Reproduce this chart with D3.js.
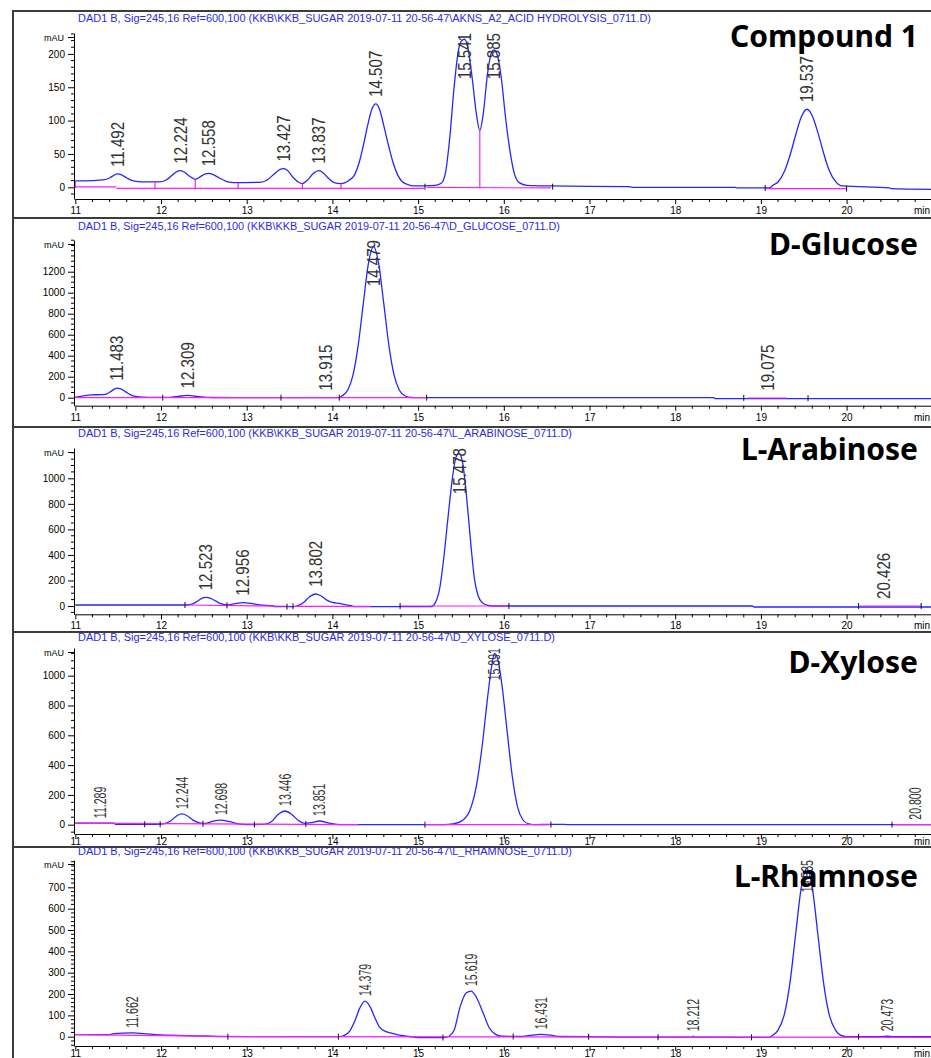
<!DOCTYPE html>
<html>
<head>
<meta charset="utf-8">
<script src="https://cdn.jsdelivr.net/npm/d3@7"></script>
<style>
  body { margin: 0; background: #fff; }
  svg { display: block; }
</style>
</head>
<body>
<div id="chart"></div>
<script>
// ---- data ----
const compoundNames = ["Compound 1", "D-Glucose", "L-Arabinose", "D-Xylose", "L-Rhamnose"];
const fileNames = ["AKNS_A2_ACID HYDROLYSIS_0711.D", "D_GLUCOSE_0711.D", "L_ARABINOSE_0711.D", "D_XYLOSE_0711.D", "L_RHAMNOSE_0711.D"];
const titlePrefix = "DAD1 B, Sig=245,16 Ref=600,100 (KKB\\KKB_SUGAR 2019-07-11 20-56-47\\";

const xTicks = [11, 12, 13, 14, 15, 16, 17, 18, 19, 20];
const yTicks = [
  [0, 50, 100, 150, 200],
  [0, 200, 400, 600, 800, 1000, 1200],
  [0, 200, 400, 600, 800, 1000],
  [0, 200, 400, 600, 800, 1000],
  [0, 100, 200, 300, 400, 500, 600, 700]
];
const yMinorStep = [10, 50, 50, 50, 20];

// retention time labels and the peak height (mAU) they sit on
const peakTimes = [
  ["11.492", "12.224", "12.558", "13.427", "13.837", "14.507", "15.541", "15.885", "19.537"],
  ["11.483", "12.309", "13.915", "14.479", "19.075"],
  ["12.523", "12.956", "13.802", "15.478", "20.426"],
  ["11.289", "12.244", "12.698", "13.446", "13.851", "15.891", "20.800"],
  ["11.662", "14.379", "15.619", "16.431", "18.212", "19.535", "20.473"]
];
const peakHeights = [
  [20, 25, 21, 28, 25, 125, 222, 206, 117],
  [95, 22, 0, 1440, 0],
  [68, 26, 94, 1196, 0],
  [10, 72, 31, 92, 25, 1150, 0],
  [18, 167, 214, 11, 2, 789, 2]
];

// signal traces [min, mAU]
const trace1 = [[11.0,9.5],[11.2,10],[11.32,11],[11.4,14],[11.45,18],[11.492,20],[11.54,18.5],[11.6,14],[11.68,9.5],[11.78,8],[11.98,8],
  [12.06,11],[12.13,18],[12.19,24],[12.224,25],[12.27,23],[12.33,17],[12.4,12],[12.46,16],[12.52,20],[12.558,21],[12.61,19],[12.68,14],
  [12.76,9],[12.85,7],[13.15,7.5],[13.24,11],[13.32,20],[13.39,27],[13.427,28],[13.47,26],[13.54,15],[13.6,8],[13.65,5.5],[13.71,11],
  [13.78,21],[13.837,25],[13.88,23],[13.95,14],[14.02,7],[14.1,5.5],[14.15,7],[14.2,11],[14.26,19],[14.31,36],[14.36,62],[14.41,92],
  [14.46,117],[14.507,125],[14.55,117],[14.6,92],[14.66,60],[14.71,36],[14.76,19],[14.81,9],[14.88,4],[14.95,2],[15.2,3],[15.27,6],
  [15.32,22],[15.37,75],[15.42,150],[15.47,205],[15.51,220],[15.541,222],[15.58,210],[15.63,165],[15.68,110],[15.72,85],[15.76,110],
  [15.81,170],[15.86,203],[15.885,206],[15.92,200],[15.97,165],[16.02,105],[16.07,56],[16.12,22],[16.18,7],[16.27,3],[16.55,2],
  [17.45,1],[17.5,0],[18.7,0],[18.72,-1],[19.1,-1],[19.14,3],[19.2,8],[19.275,24],[19.34,48],[19.405,78],[19.47,105],[19.537,117],
  [19.6,107],[19.665,82],[19.73,52],[19.795,26],[19.87,9],[19.95,2],[20.5,-1],[20.52,-2],[21.0,-3]];
const trace2 = [[11.0,5],[11.08,14],[11.18,27],[11.3,29],[11.36,35],[11.42,62],[11.483,92],[11.53,85],[11.58,60],[11.64,30],[11.7,12],
  [11.8,5],[11.9,3],[12.1,4],[12.2,12],[12.309,22],[12.4,14],[12.5,5],[12.6,2],[13.0,0],[14.08,0],[14.11,16],[14.18,73],[14.24,215],
  [14.3,494],[14.36,893],[14.42,1276],[14.479,1440],[14.54,1276],[14.6,893],[14.66,494],[14.72,215],[14.78,73],[14.85,16],[14.92,2],
  [15.0,0],[18.45,0],[18.47,-8],[21.0,-8]];
const trace3 = [[11.0,8],[12.3,8],[12.36,14],[12.42,35],[12.47,58],[12.523,68],[12.58,60],[12.64,38],[12.7,18],[12.77,8],[12.85,16],
  [12.956,26],[13.05,20],[13.15,8],[13.3,2],[13.33,-5],[13.55,-5],[13.6,3],[13.66,25],[13.73,70],[13.802,94],[13.86,82],[13.93,48],
  [14.0,28],[14.08,20],[14.15,10],[14.22,2],[14.25,-5],[15.15,-5],[15.2,25],[15.25,130],[15.3,380],[15.35,700],[15.4,1000],
  [15.44,1160],[15.478,1196],[15.52,1120],[15.55,960],[15.58,750],[15.62,450],[15.66,200],[15.7,80],[15.75,25],[15.82,4],[15.9,0],
  [18.9,0],[18.92,-8],[21.0,-8]];
const trace4 = [[11.0,10],[11.45,10],[11.47,3],[11.95,3],[12.05,8],[12.12,28],[12.19,62],[12.244,72],[12.3,62],[12.37,32],[12.45,12],
  [12.52,8],[12.6,22],[12.698,31],[12.8,20],[12.9,6],[13.0,1],[13.2,2],[13.29,22],[13.37,70],[13.446,92],[13.52,72],[13.6,30],[13.68,9],
  [13.76,14],[13.851,25],[13.95,12],[14.05,2],[14.1,0],[15.3,0],[15.4,5],[15.5,22],[15.6,90],[15.68,260],[15.75,540],[15.81,850],
  [15.86,1070],[15.891,1150],[15.93,1110],[15.98,930],[16.04,620],[16.1,320],[16.16,120],[16.22,35],[16.28,8],[16.35,1],[16.55,2],
  [16.72,2],[16.74,0],[21.0,0]];
const trace5 = [[11.0,10],[11.4,10],[11.45,14],[11.662,18],[11.85,13],[12.0,8],[12.3,5],[12.55,2],[12.8,0],[14.08,0],[14.14,6],[14.2,25],
  [14.26,72],[14.32,135],[14.379,167],[14.44,140],[14.5,85],[14.55,45],[14.62,25],[14.7,16],[14.8,6],[14.9,1],[15.0,-4],[15.3,-4],
  [15.36,2],[15.42,30],[15.49,140],[15.56,205],[15.619,214],[15.68,185],[15.76,110],[15.83,42],[15.9,12],[15.98,2],[16.2,1],[16.3,6],
  [16.431,11],[16.55,7],[16.65,1],[17.0,0],[17.5,-2],[18.2,-2],[18.212,2],[18.23,-2],[19.1,-3],[19.14,7],[19.2,31],[19.275,107],
  [19.34,256],[19.405,479],[19.47,696],[19.535,789],[19.6,696],[19.665,479],[19.73,256],[19.795,107],[19.87,31],[19.93,7],[20.0,0],
  [20.4,0],[20.473,2],[20.55,0],[21.0,0]];
const traces = [trace1, trace2, trace3, trace4, trace5];

// integration baselines [t1, v1, t2, v2]
const baselines = [
  [[11.0,0.5,11.48,0.5],[11.48,-1.5,15.07,-1.5],[15.1,0,16.55,-1],[19.05,-2,20.0,-2]],
  [[11.0,0,15.1,0],[18.85,-3,19.3,-3]],
  [[12.28,8,13.5,-2],[13.55,-3,14.45,-3],[14.78,0,16.07,0],[20.15,0,20.88,0]],
  [[11.0,10,14.3,0],[15.07,0,16.55,0],[20.55,0,21.0,0]],
  [[11.0,10,13.0,0],[13.0,0,21.0,-3]]
];
// pink drop lines [t, from, to]
const drops = [
  [[11.0,-1,10],[11.93,-1.5,8],[12.4,-1.5,12],[12.9,-1.5,7],[13.65,-1.5,5.5],[14.1,-1.5,5.5],[15.72,-1.5,85]],
  [], [], [], []
];
// peak start/end marks [t, mAU]
const marks = [
  [[15.08,1],[16.57,1],[19.05,-1],[20.0,-2]],
  [[12.02,0],[13.4,0],[14.08,0],[15.1,0],[18.8,-2],[19.55,-5]],
  [[12.28,8],[12.77,5],[13.47,-5],[13.54,-2],[14.79,0],[16.06,0],[20.14,0],[20.87,0]],
  [[11.81,3],[11.99,3],[12.49,6],[13.09,1],[13.69,5],[15.08,0],[16.55,1],[20.53,0]],
  [[12.78,0],[14.07,0],[15.29,-4],[16.11,1],[16.99,0],[17.8,-2],[18.89,-3],[20.14,0]]
];

// ---- layout ----
const panels = [
  {top: 11,  bottom: 218, titleY: 21.5,  titleW: 573, y0: 187.3,  k: 0.667,  axisTop: 33,  axisBot: 199,   xPad: 3,  nameY: 47,    fs: 18, sx: 0.84, gap: 7},
  {top: 218, bottom: 427, titleY: 229.5, titleW: 482, y0: 397.7,  k: 0.105,  axisTop: 240, axisBot: 405.7, xPad: 3,  nameY: 255,   fs: 18, sx: 0.84, gap: 7},
  {top: 427, bottom: 632, titleY: 436.5, titleW: 494, y0: 606,    k: 0.1277, axisTop: 448, axisBot: 614.3, xPad: 3,  nameY: 460,   fs: 18, sx: 0.84, gap: 7},
  {top: 632, bottom: 847, titleY: 640.5, titleW: 477, y0: 824.7,  k: 0.149,  axisTop: 648, axisBot: 834,   xPad: -1, nameY: 673.3, fs: 16, sx: 0.66, gap: 5},
  {top: 847, bottom: 1062, titleY: 854.5, titleW: 494, y0: 1036.7, k: 0.2134, axisTop: 860, axisBot: 1046,  xPad: -1, nameY: 886.7, fs: 16, sx: 0.66, gap: 5}
];

const axisFont = "'Liberation Sans', Arial, sans-serif";
const blue = "#2626ff";
const pink = "#ff1aff";

const svg = d3.select("#chart").append("svg")
  .attr("width", 931)
  .attr("height", 1058);

const x = d3.scaleLinear().domain([11, 21]).range([75.3, 932.3]);

// panel frames first so axis text can sit over them
panels.forEach(p => {
  svg.append("rect")
    .attr("x", 13).attr("y", p.top)
    .attr("width", 940).attr("height", p.bottom - p.top)
    .attr("fill", "none")
    .attr("stroke", "#3c3c3c")
    .attr("stroke-width", 2);
});

panels.forEach((p, i) => {
  const g = svg.append("g");
  const y = d3.scaleLinear()
    .domain([(p.y0 - p.axisBot) / p.k, (p.y0 - p.axisTop) / p.k])
    .range([p.axisBot, p.axisTop]);

  svg.append("clipPath").attr("id", "clip" + i)
    .append("rect")
    .attr("x", 75).attr("y", p.axisTop - 2)
    .attr("width", 860).attr("height", p.axisBot - p.axisTop + 2);

  // header line
  g.append("text")
    .attr("x", 78).attr("y", p.titleY)
    .attr("fill", "#2a2ae8")
    .attr("textLength", p.titleW)
    .attr("lengthAdjust", "spacingAndGlyphs")
    .style("font", "10px " + axisFont)
    .text(titlePrefix + fileNames[i] + ")");

  // y axis
  const yAxis = g.append("g")
    .attr("transform", "translate(74,0)")
    .call(d3.axisLeft(y).tickValues(yTicks[i]).tickFormat(d3.format("d")).tickSize(6).tickPadding(3).tickSizeOuter(0));

  const step = yMinorStep[i];
  const [d0, d1] = y.domain();
  const minorY = d3.range(Math.ceil(d0 / step) * step, d1, step).filter(v => !yTicks[i].includes(v));
  g.selectAll(".ymin" + i)
    .data(minorY)
    .enter().append("line")
    .attr("x1", 71).attr("x2", 74)
    .attr("y1", d => y(d)).attr("y2", d => y(d))
    .attr("stroke", "#000");

  g.append("line")
    .attr("x1", 68).attr("x2", 74)
    .attr("y1", p.axisTop + 4.5).attr("y2", p.axisTop + 4.5)
    .attr("stroke", "#000");
  g.append("text")
    .attr("x", 64).attr("y", p.axisTop + 4.5)
    .attr("dy", "0.35em")
    .attr("text-anchor", "end")
    .style("font", "9px " + axisFont)
    .text("mAU");

  // x axis
  const xAxis = g.append("g")
    .attr("transform", `translate(0,${p.axisBot})`)
    .call(d3.axisBottom(x).tickValues(xTicks).tickFormat(d3.format("d")).tickSize(5).tickPadding(p.xPad).tickSizeOuter(0));

  g.selectAll(".xmin" + i)
    .data(d3.range(11.2, 21, 0.2).filter(v => Math.abs(v - Math.round(v)) > 0.01))
    .enter().append("line")
    .attr("x1", d => x(d)).attr("x2", d => x(d))
    .attr("y1", p.axisBot).attr("y2", p.axisBot + 3)
    .attr("stroke", "#000");

  g.append("text")
    .attr("x", 914).attr("y", p.axisBot + 5 + p.xPad)
    .attr("dy", "0.71em")
    .style("font", "10px " + axisFont)
    .text("min");

  [yAxis, xAxis].forEach(a => {
    a.selectAll("text").style("font", "10px " + axisFont).attr("fill", "#000");
    a.selectAll("line, path").attr("stroke", "#000");
  });

  const plot = g.append("g").attr("clip-path", `url(#clip${i})`);

  // signal
  const line = d3.line()
    .x(d => x(d[0]))
    .y(d => y(d[1]))
    .curve(d3.curveMonotoneX);

  plot.append("path")
    .datum(traces[i])
    .attr("d", line)
    .attr("fill", "none")
    .attr("stroke", blue)
    .attr("stroke-width", 1.3);

  // baselines and drop lines
  plot.selectAll(".base")
    .data(baselines[i])
    .enter().append("line")
    .attr("x1", d => x(d[0])).attr("y1", d => y(d[1]))
    .attr("x2", d => x(d[2])).attr("y2", d => y(d[3]))
    .attr("stroke", pink)
    .attr("stroke-width", 1.2);

  plot.selectAll(".drop")
    .data(drops[i])
    .enter().append("line")
    .attr("x1", d => x(d[0])).attr("x2", d => x(d[0]))
    .attr("y1", d => y(d[1])).attr("y2", d => y(d[2]))
    .attr("stroke", pink)
    .attr("stroke-width", 1.2);

  plot.selectAll(".mark")
    .data(marks[i])
    .enter().append("line")
    .attr("x1", d => x(d[0])).attr("x2", d => x(d[0]))
    .attr("y1", d => y(d[1]) - 3).attr("y2", d => y(d[1]) + 3)
    .attr("stroke", "#111")
    .attr("stroke-width", 1);

  // retention time labels
  peakTimes[i].forEach((t, j) => {
    const lab = g.append("text")
      .attr("dy", "0.36em")
      .attr("fill", "#333")
      .style("font", `${p.fs}px ${axisFont}`)
      .text(t);
    const len = lab.node().getComputedTextLength() * p.sx;
    let base = y(peakHeights[i][j]) - p.gap;
    if (base - len < p.axisTop) base = p.axisTop + len;
    lab.attr("transform", `translate(${x(+t)},${base}) rotate(-90) scale(${p.sx},1)`);
  });

  // compound name
  g.append("text")
    .attr("x", 918).attr("y", p.nameY)
    .attr("text-anchor", "end")
    .attr("fill", "#000")
    .style("font", "700 30px 'Noto Sans', 'Open Sans', sans-serif")
    .text(compoundNames[i]);
});
</script>
</body>
</html>
